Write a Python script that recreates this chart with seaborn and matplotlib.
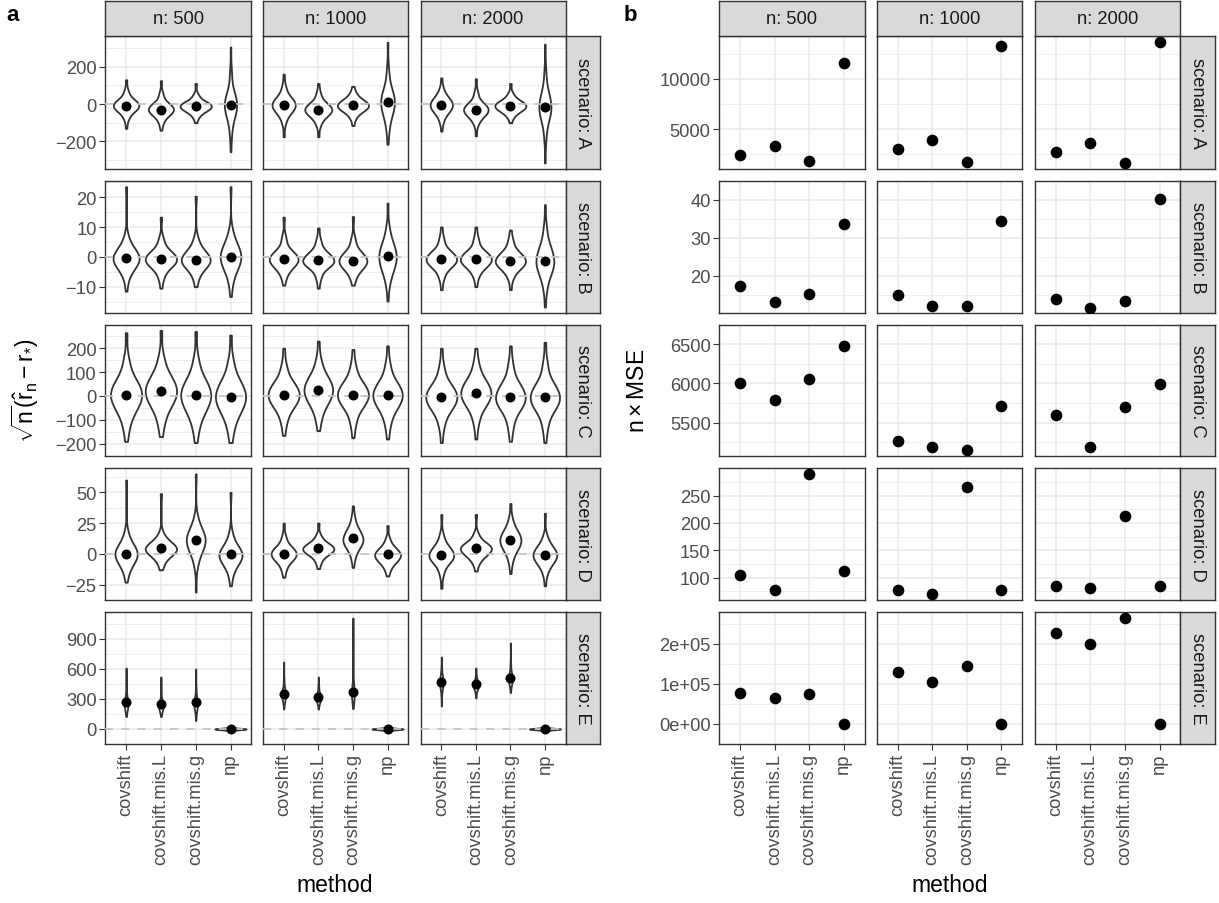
import numpy as np
import pandas as pd
import matplotlib
matplotlib.use("Agg")
import matplotlib.pyplot as plt
import seaborn as sns

# ---------------- data ----------------
METHODS = ["covshift", "covshift.mis.L", "covshift.mis.g", "np"]
N_LABELS = ["n: 500", "n: 1000", "n: 2000"]
SCENARIOS = ["A", "B", "C", "D", "E"]

# Each violin: read-off quantiles [min, q05, q25, q50, q75, q95, max]
QUANT_WEIGHTS = [1, 3, 8, 12, 8, 3, 1]

VIOLIN_A = [
    [[-130, -75, -35, -8, 20, 65, 130], [-140, -95, -55, -28, 0, 50, 125],
     [-100, -65, -35, -12, 10, 45, 110], [-255, -150, -60, -5, 50, 160, 305]],
    [[-175, -90, -40, -5, 30, 85, 160], [-175, -105, -60, -30, 0, 50, 110],
     [-115, -70, -35, -8, 20, 55, 95], [-215, -130, -50, 10, 70, 170, 330]],
    [[-145, -85, -40, -5, 30, 75, 140], [-170, -100, -60, -30, 0, 55, 135],
     [-100, -65, -35, -10, 15, 50, 110], [-315, -170, -70, -15, 50, 160, 320]],
]
VIOLIN_B = [
    [[-11.5, -6.5, -3, -0.5, 2, 6, 23.5], [-10.5, -6.5, -3, -0.8, 1.5, 5.5, 13.3],
     [-10, -6.5, -3, -1, 1.5, 5.5, 20.3], [-13.3, -8, -3.5, 0, 3.5, 8, 23.5]],
    [[-9.5, -6, -3, -0.8, 1.5, 6, 13.3], [-10.5, -6.5, -3, -1.2, 1.2, 5, 9.7],
     [-9.5, -6.5, -3.5, -1.3, 1.2, 5.5, 13.5], [-14.8, -8.5, -4, 0, 4, 9, 18]],
    [[-11, -6.5, -3, -0.8, 1.5, 5.5, 10], [-10, -6, -3, -0.8, 1.5, 5.5, 10],
     [-11, -6.5, -3.5, -1.3, 1.2, 5, 9], [-16.8, -10, -5, -1.3, 3, 9, 17.5]],
]
VIOLIN_C = [
    [[-190, -120, -50, 5, 60, 140, 265], [-170, -105, -35, 20, 75, 150, 275],
     [-195, -125, -55, 3, 60, 140, 270], [-195, -130, -60, -3, 55, 135, 255]],
    [[-165, -100, -40, 5, 50, 115, 200], [-145, -85, -25, 25, 75, 140, 230],
     [-175, -105, -40, 5, 50, 115, 195], [-180, -110, -45, 3, 50, 120, 210]],
    [[-195, -115, -50, -5, 40, 110, 200], [-180, -100, -35, 12, 60, 125, 200],
     [-190, -120, -50, -5, 45, 120, 210], [-195, -120, -50, -5, 45, 125, 225]],
]
VIOLIN_D = [
    [[-23, -14, -6, 0, 6, 16, 60], [-13, -7, 0, 4, 8, 15, 49],
     [-31, -8, 3, 11, 18, 28, 65], [-26, -16, -7, -1, 5, 15, 50]],
    [[-19, -12, -5, 0, 5, 13, 25], [-12, -6, 0, 4, 8, 14, 25],
     [-11, -2, 6, 12, 19, 28, 39], [-18, -12, -6, -1, 4, 11, 23]],
    [[-28, -15, -6, -1, 5, 14, 32], [-14, -7, -1, 4, 8, 15, 32],
     [-16, -5, 4, 11, 18, 27, 41], [-26, -15, -7, -1, 5, 13, 33]],
]
VIOLIN_E = [
    [[125, 170, 215, 255, 310, 420, 610], [125, 165, 200, 235, 280, 380, 520],
     [85, 150, 210, 255, 310, 420, 600], [-25, -15, -6, 0, 6, 15, 25]],
    [[200, 260, 310, 345, 390, 480, 670], [200, 245, 285, 315, 350, 420, 520],
     [205, 270, 320, 360, 410, 550, 1110], [-25, -15, -6, 0, 6, 15, 25]],
    [[230, 350, 420, 470, 520, 600, 720], [310, 365, 410, 440, 475, 530, 610],
     [365, 420, 470, 505, 545, 640, 860], [-25, -15, -6, 0, 6, 15, 25]],
]

MEAN_A = [[-10, -30, -10, -5], [-5, -30, -5, 10], [-5, -30, -10, -15]]
MEAN_B = [[-0.5, -0.8, -1.0, 0.0], [-0.8, -1.2, -1.3, 0.3], [-0.8, -0.8, -1.3, -1.3]]
MEAN_C = [[5, 22, 3, -3], [5, 25, 5, 3], [-5, 12, -5, -5]]
MEAN_D = [[0, 5, 11.5, 0], [0, 5, 13, -0.5], [-1, 4.5, 11, -1]]
MEAN_E = [[265, 245, 265, 0], [350, 320, 370, 0], [470, 445, 510, 0]]

MSE_A = [[2430, 3270, 1870, 11530], [2970, 3930, 1730, 13300], [2770, 3600, 1630, 13630]]
MSE_B = [[17.4, 13.1, 15.2, 33.5], [14.9, 12.0, 12.0, 34.4], [13.9, 11.6, 13.4, 40.2]]
MSE_C = [[6007, 5784, 6051, 6473], [5259, 5185, 5144, 5718], [5603, 5189, 5700, 5996]]
MSE_D = [[104.7, 78, 289.6, 111.5], [77.4, 70, 266.4, 76.8], [84.7, 80.5, 212.2, 84.7]]
MSE_E = [[76400, 64600, 75000, 300], [128700, 104400, 144800, 300], [227100, 199300, 265500, 300]]

YTICKS_A = [[-200, 0, 200], [-10, 0, 10, 20], [-200, -100, 0, 100, 200],
            [-25, 0, 25, 50], [0, 300, 600, 900]]
YTICKS_B = [[5000, 10000], [20, 30, 40], [5500, 6000, 6500],
            [100, 150, 200, 250], [0, 100000, 200000]]
YTICKLABELS_B = [["5000", "10000"], ["20", "30", "40"], ["5500", "6000", "6500"],
                 ["100", "150", "200", "250"], ["0e+00", "1e+05", "2e+05"]]

VIOLINS = [VIOLIN_A, VIOLIN_B, VIOLIN_C, VIOLIN_D, VIOLIN_E]
MEANS = [MEAN_A, MEAN_B, MEAN_C, MEAN_D, MEAN_E]
MSES = [MSE_A, MSE_B, MSE_C, MSE_D, MSE_E]

# ---------------- style ----------------
plt.rcParams["font.family"] = ["Liberation Sans", "DejaVu Sans"]
plt.rcParams["mathtext.fontset"] = "custom"
plt.rcParams["mathtext.rm"] = "Liberation Sans"
plt.rcParams["mathtext.it"] = "Liberation Sans"
plt.rcParams["mathtext.bf"] = "Liberation Sans:bold"

W, H = 1219, 904
fig = plt.figure(figsize=(W / 100, H / 100), dpi=100)


def px_rect(x0, y0, x1, y1):
    return [x0 / W, 1 - y1 / H, (x1 - x0) / W, (y1 - y0) / H]


ROWS_Y = [(37.3, 170), (181.7, 314), (325.7, 456.7), (469, 601), (613.3, 745)]
COLS_A = [(105.2, 251.4), (262.9, 408.3), (420.6, 565.6)]
COLS_B = [(719.2, 864.5), (877, 1022), (1034.7, 1180.3)]
STRIP_TOP = (2, 37.3)
STRIP_A_X = (565.6, 600)
STRIP_B_X = (1180.3, 1215)

BORDER = "#333333"
GRID = "#EBEBEB"
FS_TICK = 13.2
FS_TITLE = 16.5


def strip(rect, text, rotation=0):
    sax = fig.add_axes(rect)
    sax.set_facecolor("#D9D9D9")
    sax.set_xticks([])
    sax.set_yticks([])
    for sp in sax.spines.values():
        sp.set_color(BORDER)
        sp.set_linewidth(1.0)
    sax.text(0.5, 0.5, text, rotation=rotation, ha="center", va="center",
             transform=sax.transAxes, fontsize=FS_TICK, color="#1A1A1A")


def style_axes(ax, r, c, yticks, ylim, ylabels=None):
    ax.set_xlim(-0.6, 3.6)
    ax.set_ylim(*ylim)
    ax.set_facecolor("white")
    step = yticks[1] - yticks[0]
    minors = [t - step / 2 for t in yticks] + [yticks[-1] + step / 2]
    ax.set_yticks(minors, minor=True)
    ax.set_yticks(yticks)
    if ylabels is not None:
        ax.set_yticklabels(ylabels)
    ax.set_xticks(range(len(METHODS)))
    ax.set_axisbelow(True)
    ax.yaxis.grid(True, which="major", color=GRID, lw=1.1)
    ax.yaxis.grid(True, which="minor", color=GRID, lw=0.55)
    ax.xaxis.grid(True, which="major", color=GRID, lw=1.1)
    ax.tick_params(axis="both", which="major", length=4, width=0.8, color=BORDER,
                   labelcolor="#4D4D4D", labelsize=FS_TICK, pad=2.2)
    ax.tick_params(axis="both", which="minor", length=0)
    for sp in ax.spines.values():
        sp.set_color(BORDER)
        sp.set_linewidth(1.0)
    ax.set_xlabel("")
    ax.set_ylabel("")
    if c > 0:
        ax.tick_params(axis="y", left=False, labelleft=False)
    if r < len(SCENARIOS) - 1:
        ax.tick_params(axis="x", bottom=False, labelbottom=False)
    else:
        ax.set_xticklabels(METHODS, rotation=90)


def expand(lo, hi, f=0.05):
    d = (hi - lo) * f
    return lo - d, hi + d


# ---------------- panel a ----------------
for r, scen in enumerate(SCENARIOS):
    vals = np.array(VIOLINS[r], dtype=float)
    lo = min(vals.min(), np.min(MEANS[r]), 0)
    hi = max(vals.max(), np.max(MEANS[r]), 0)
    ylim = expand(lo, hi)
    for c in range(3):
        ax = fig.add_axes(px_rect(COLS_A[c][0], ROWS_Y[r][0], COLS_A[c][1], ROWS_Y[r][1]))
        rows = []
        for k, m in enumerate(METHODS):
            for v in np.repeat(VIOLINS[r][c][k], QUANT_WEIGHTS):
                rows.append((m, v))
        df = pd.DataFrame(rows, columns=["method", "value"])
        sns.violinplot(data=df, x="method", y="value", order=METHODS, color="white",
                       saturation=1, linecolor=BORDER, linewidth=1.3, inner=None,
                       cut=0, density_norm="area", width=0.9, bw_adjust=1.0, ax=ax)
        ax.axhline(0, color="#C4C4C4", lw=1.3, ls=(0, (4.5, 4.5)), zorder=3)
        mdf = pd.DataFrame({"method": METHODS, "mean": MEANS[r][c]})
        sns.stripplot(data=mdf, x="method", y="mean", order=METHODS, jitter=False,
                      color="black", size=7.2, ax=ax, zorder=4)
        style_axes(ax, r, c, YTICKS_A[r], ylim)
        if r == 0:
            strip(px_rect(COLS_A[c][0], STRIP_TOP[0], COLS_A[c][1], STRIP_TOP[1]), N_LABELS[c])
    strip(px_rect(STRIP_A_X[0], ROWS_Y[r][0], STRIP_A_X[1], ROWS_Y[r][1]),
          f"scenario: {scen}", rotation=-90)

# ---------------- panel b ----------------
for r, scen in enumerate(SCENARIOS):
    vals = np.array(MSES[r], dtype=float)
    ylim = expand(vals.min(), vals.max())
    for c in range(3):
        ax = fig.add_axes(px_rect(COLS_B[c][0], ROWS_Y[r][0], COLS_B[c][1], ROWS_Y[r][1]))
        mdf = pd.DataFrame({"method": METHODS, "mse": MSES[r][c]})
        sns.stripplot(data=mdf, x="method", y="mse", order=METHODS, jitter=False,
                      color="black", size=8.4, ax=ax, zorder=4)
        style_axes(ax, r, c, YTICKS_B[r], ylim, YTICKLABELS_B[r])
        if r == 0:
            strip(px_rect(COLS_B[c][0], STRIP_TOP[0], COLS_B[c][1], STRIP_TOP[1]), N_LABELS[c])
    strip(px_rect(STRIP_B_X[0], ROWS_Y[r][0], STRIP_B_X[1], ROWS_Y[r][1]),
          f"scenario: {scen}", rotation=-90)

# ---------------- titles ----------------
fig.text(25 / W, 1 - 391 / H,
         r"$\sqrt{\mathrm{n}}(\hat{\mathrm{r}}_{\mathrm{n}} - \mathrm{r}_{*})$",
         rotation=90, ha="center", va="center", fontsize=FS_TITLE, color="black")
fig.text(637 / W, 1 - 391 / H, r"$\mathrm{n}\times\mathrm{MSE}$",
         rotation=90, ha="center", va="center", fontsize=FS_TITLE, color="black")
fig.text(335 / W, 1 - 886 / H, "method", ha="center", va="center",
         fontsize=FS_TITLE, color="black")
fig.text(950 / W, 1 - 886 / H, "method", ha="center", va="center",
         fontsize=FS_TITLE, color="black")
fig.text(6 / W, 1 - 21 / H, "a", ha="left", va="baseline", fontsize=16,
         fontweight="bold", color="black")
fig.text(624 / W, 1 - 21 / H, "b", ha="left", va="baseline", fontsize=16,
         fontweight="bold", color="black")

fig.savefig("out.png", dpi=100, facecolor="white")
